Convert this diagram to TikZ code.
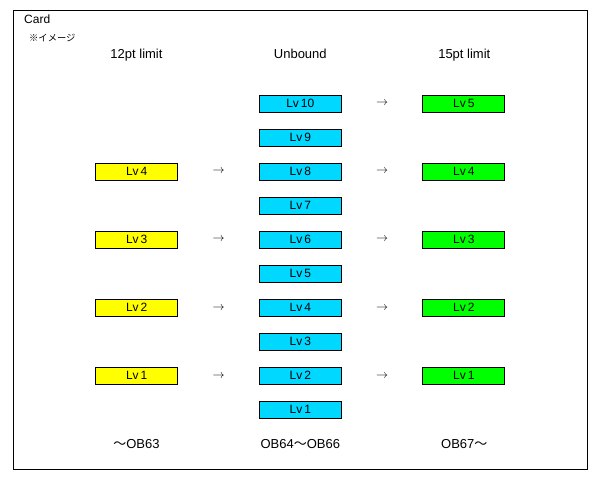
\documentclass[tikz,border=0pt]{standalone}
\usepackage{fontspec}
\setmainfont{Liberation Sans}
\newfontfamily\jpfont{Noto Sans CJK JP}
\usepackage{xcolor}
\usetikzlibrary{positioning}

\definecolor{lvyellow}{HTML}{FFFF00}
\definecolor{lvcyan}{HTML}{00D8FF}
\definecolor{lvgreen}{HTML}{00FF00}

\begin{document}
\begin{tikzpicture}[x=1pt,y=-1pt,node distance=16.1pt,
 lv/.style={draw,line width=0.9pt,minimum width=82pt,minimum height=17pt,inner sep=0pt,
   font=\fontsize{12}{12}\selectfont},
 lvold/.style={lv,fill=lvyellow},
 lvfree/.style={lv,fill=lvcyan},
 lvnew/.style={lv,fill=lvgreen},
 head/.style={anchor=base,font=\fontsize{13}{14}\selectfont},
 step arrow/.style={font=\fontsize{12}{12}\selectfont}]
 \useasboundingbox (0,0) rectangle (598,481);
 \draw[line width=0.9pt] (13,10) rectangle (587,469);
 \node[anchor=base west,inner sep=0pt,font=\fontsize{12}{12}\selectfont] (title) at (24,23.5) {Card};
 \node[anchor=base west,inner sep=0pt,font=\jpfont\fontsize{9.3}{9}\selectfont] (note) at (29,41.5) {※イメージ};

 \node[head] (h12) at (136.5,58.5) {12pt limit};
 \node[head] (hfree) at (300.3,58.5) {Unbound};
 \node[head] (h15) at (464.3,58.5) {15pt limit};

 % unbound column
 \node[lvfree] (m10) at (300.3,103.8) {Lv\,10};
 \node[lvfree,below=of m10] (m9) {Lv\,9};
 \node[lvfree,below=of m9] (m8) {Lv\,8};
 \node[lvfree,below=of m8] (m7) {Lv\,7};
 \node[lvfree,below=of m7] (m6) {Lv\,6};
 \node[lvfree,below=of m6] (m5) {Lv\,5};
 \node[lvfree,below=of m5] (m4) {Lv\,4};
 \node[lvfree,below=of m4] (m3) {Lv\,3};
 \node[lvfree,below=of m3] (m2) {Lv\,2};
 \node[lvfree,below=of m2] (m1) {Lv\,1};

 % 12pt column
 \node[lvold,left=80.7pt of m8] (l4) {Lv\,4};
 \node[lvold,left=80.7pt of m6] (l3) {Lv\,3};
 \node[lvold,left=80.7pt of m4] (l2) {Lv\,2};
 \node[lvold,left=80.7pt of m2] (l1) {Lv\,1};

 % 15pt column
 \node[lvnew,right=80.7pt of m10] (r5) {Lv\,5};
 \node[lvnew,right=80.7pt of m8] (r4) {Lv\,4};
 \node[lvnew,right=80.7pt of m6] (r3) {Lv\,3};
 \node[lvnew,right=80.7pt of m4] (r2) {Lv\,2};
 \node[lvnew,right=80.7pt of m2] (r1) {Lv\,1};

 \path (l4) -- node[step arrow] {$\rightarrow$} (m8)
       (l3) -- node[step arrow] {$\rightarrow$} (m6)
       (l2) -- node[step arrow] {$\rightarrow$} (m4)
       (l1) -- node[step arrow] {$\rightarrow$} (m2)
       (m10) -- node[step arrow] {$\rightarrow$} (r5)
       (m8) -- node[step arrow] {$\rightarrow$} (r4)
       (m6) -- node[step arrow] {$\rightarrow$} (r3)
       (m4) -- node[step arrow] {$\rightarrow$} (r2)
       (m2) -- node[step arrow] {$\rightarrow$} (r1);

 \node[head] (f12) at (136.5,449) {{\jpfont 〜}OB63};
 \node[head] (ffree) at (300.3,449) {OB64{\jpfont 〜}OB66};
 \node[head] (f15) at (464.3,449) {OB67{\jpfont 〜}};
\end{tikzpicture}
\end{document}
